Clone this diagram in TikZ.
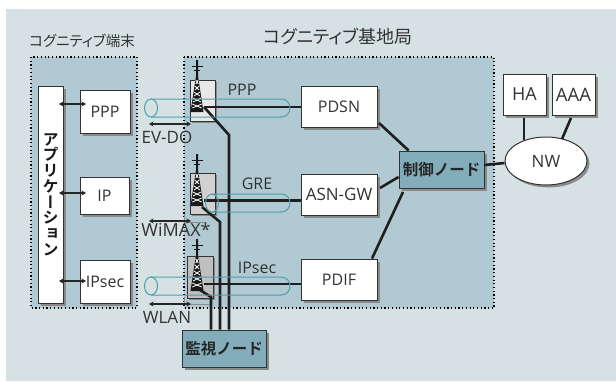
\documentclass[tikz,border=0pt]{standalone}
\usepackage{fontspec}
\usetikzlibrary{shapes.geometric,shadows,arrows.meta,calc}
\setmainfont{Open Sans}
\newfontfamily\jpf[RawFeature=+palt]{Noto Sans CJK JP}
\newfontfamily\jpb[RawFeature=+vert]{Noto Sans CJK JP Bold}
\newfontfamily\jph{Noto Sans CJK JP Bold}
\definecolor{bgc}{HTML}{D5E1E3}
\definecolor{panelc}{HTML}{B1C9D2}
\definecolor{tealn}{HTML}{83ADBA}
\definecolor{tubec}{HTML}{4F9FAC}
\definecolor{txt}{HTML}{333333}
\definecolor{shad}{HTML}{8A8A8A}
\tikzset{
  panel/.style={fill=panelc,draw=black,line width=1.2pt,dash pattern=on 1.2pt off 2.5pt},
  boxn/.style={draw=txt,fill=white,line width=1pt,inner sep=0pt,text=txt,font=\fontsize{16}{18}\selectfont,
    drop shadow={shadow xshift=2.5pt,shadow yshift=-2.5pt,fill=shad,opacity=1}},
  ctrln/.style={boxn,fill=tealn,text=black!85,font=\fontsize{15.5}{17}\jph},
  lbl/.style={inner sep=0pt,text=txt,font=\fontsize{16}{18}\selectfont},
  lblb/.style={lbl,font=\fontsize{17}{19}\selectfont},
  title/.style={inner sep=0pt,text=txt},
  thick link/.style={draw=black!88,line width=2.6pt},
  tube/.style={draw=tubec,line width=1pt},
  dbl/.style={draw=black!85,line width=1.1pt,{Stealth[length=4.5pt,width=5pt]}-{Stealth[length=4.5pt,width=5pt]}},
  towerbox/.style={draw=txt,line width=0.7pt,
    drop shadow={shadow xshift=2pt,shadow yshift=-2pt,fill=shad,opacity=1},inner sep=0pt},
  pics/tower/.style={code={
    \fill[black!90] (-6.5,52) -- (-1,16) -- (-1,0) -- (1,0) -- (1,16) -- (6.5,52) -- cycle;
    \draw[black!90,line width=1pt] (-5.5,6.5) -- (5.5,6.5) (-3,10.5) -- (3,10.5);
    \foreach \yy/\hw in {20/1.3,26/2.1,32/3.0,38/3.9,44/4.7}{
      \draw[white,line width=0.8pt] (-\hw,\yy) -- (\hw,\yy+4) (\hw,\yy) -- (-\hw,\yy+4);
    }
  }}
}
\begin{document}
\begin{tikzpicture}[x=1pt,y=-1pt]
\useasboundingbox (0,0) rectangle (616,381);
\fill[white] (0,0) rectangle (616,381);
\fill[bgc] (6,9) rectangle (616,381);
% panels
\path[panel] (31,57) rectangle (137,308);
\path[panel] (184,57) rectangle (494,308);
% titles
\node[title,font=\fontsize{14.5}{17}\jpf] (t1) at (82,41) {コグニティブ端末};
\node[title,font=\fontsize{18}{20}\jpf] (t2) at (338,37) {コグニティブ基地局};
% terminal boxes
\node[boxn,minimum width=25pt,minimum height=217pt,font=\fontsize{16}{15.7}\jpb,align=center,text=black!90] (app) at (50.5,194.5)
 {ア\\プ\\リ\\ケ\\ー\\シ\\ョ\\ン};
\node[boxn,minimum width=50pt,minimum height=43pt] (ppp) at (105,111.5) {PPP};
\node[boxn,minimum width=49pt,minimum height=37pt] (ip) at (104.5,195.5) {IP};
\node[boxn,minimum width=50pt,minimum height=43pt] (ipsec) at (105,281.5) {IPsec};
\coordinate (a1) at (59,104); \coordinate (a1e) at (86,104);
\coordinate (a2) at (59,193); \coordinate (a2e) at (86,193);
\coordinate (a3) at (59,281); \coordinate (a3e) at (86,281);
\draw[dbl] (a1) -- (a1e);
\draw[dbl] (a2) -- (a2e);
\draw[dbl] (a3) -- (a3e);
% tower boxes
\node[towerbox,fill=black!9,minimum width=25pt,minimum height=41pt] (b1) at (202.5,100.5) {};
\node[towerbox,fill=black!18,minimum width=25pt,minimum height=41pt] (b2) at (202.5,193.5) {};
\node[towerbox,fill=black!25,minimum width=26pt,minimum height=42pt] (b3) at (200,277) {};
\draw[black!45,line width=0.7pt] (184,214) |- (205,222);
\draw[black!45,line width=0.7pt] (184,297) |- (210,304);
% right boxes
\node[boxn,minimum width=76pt,minimum height=41pt] (pdsn) at (339,106.5) {PDSN};
\node[boxn,minimum width=76pt,minimum height=41pt,font=\fontsize{17}{19}\selectfont] (asn) at (339,194.5) {ASN-GW};
\node[boxn,minimum width=76pt,minimum height=41pt] (pdif) at (339,279.5) {PDIF};
\node[ctrln,minimum width=85pt,minimum height=37pt] (ctrl) at (441.5,169.5) {制御ノード};
\node[ctrln,minimum width=84pt,minimum height=37pt] (mon) at (224,348.5) {監視ノード};
\node[boxn,minimum width=43pt,minimum height=41pt,font=\fontsize{18}{20}\selectfont] (ha) at (524.5,94.5) {HA};
\node[boxn,minimum width=43pt,minimum height=41pt,font=\fontsize{18.5}{20}\selectfont] (aaa) at (573.5,94.5) {AAA};
\node[boxn,ellipse,minimum width=82pt,minimum height=48pt,font=\fontsize{17}{19}\selectfont] (nw) at (546,161) {NW};
% coordinates
\coordinate (t1c) at (204,107);
\coordinate (t2c) at (204,200.5);
\coordinate (t3c) at (204,284);
\coordinate (t2d) at (202,207);
\coordinate (t3d) at (200,290);
\coordinate (d1) at (229,135);
\coordinate (d2) at (220,222);
\coordinate (d3) at (211,297);
% links
\draw[thick link] (t1c) -- (pdsn.west |- t1c);
\draw[thick link] (t2c) -- (asn.west |- t2c);
\draw[thick link] (t3c) -- (pdif.west |- t3c);
\draw[thick link] (t1c) -- (d1) -- (mon.north -| d1);
\draw[thick link] (t2d) -- (d2) -- (mon.north -| d2);
\draw[thick link] (t3d) -- (d3) -- (mon.north -| d3);
\draw[thick link] (379,123) -- (ctrl.150);
\draw[thick link] (380,188) -- (ctrl.west |- 0,177);
\draw[thick link] (pdif.north -| 372,0) -- (403,192);
\draw[thick link] (ctrl.east |- 0,165) -- (nw.west |- 0,163);
\draw[thick link] (524,118) -- (524,140);
\draw[thick link] (571,118) -- (562,139);
% towers
\pic at (197,60) {tower};
\pic at (197,154) {tower};
\pic at (197,239) {tower};
% tubes
\draw[tube] (151,99) -- (281,99) .. controls (293,99) and (293,117) .. (281,117) -- (151,117);
\draw[tube] (151,108) ellipse[x radius=6.5,y radius=9];
\draw[tube] (212,194) -- (281,194) .. controls (293,194) and (293,212) .. (281,212) -- (212,212);
\draw[tube] (212,203) ellipse[x radius=6.5,y radius=9];
\draw[tube] (151,277) -- (281,277) .. controls (293,277) and (293,295) .. (281,295) -- (151,295);
\draw[tube] (151,286) ellipse[x radius=6.5,y radius=9];
% radio arrows
\coordinate (r1) at (149,124); \coordinate (r1e) at (191,124);
\coordinate (r2) at (149,221); \coordinate (r2e) at (191,221);
\coordinate (r3) at (149,304); \coordinate (r3e) at (191,304);
\draw[dbl] (r1) -- (r1e);
\draw[dbl] (r2) -- (r2e);
\draw[dbl] (r3) -- (r3e);
% labels
\node[lbl] (l1) at (242,90) {PPP};
\node[lbl] (l2) at (257,184) {GRE};
\node[lbl] (l3) at (257,268) {IPsec};
\node[lblb] (l4) at (167,137) {EV-DO};
\node[lblb,font=\fontsize{18}{20}\selectfont] (l5) at (176,230) {WiMAX*};
\node[lblb] (l6) at (167,317) {WLAN};
\end{tikzpicture}
\end{document}
